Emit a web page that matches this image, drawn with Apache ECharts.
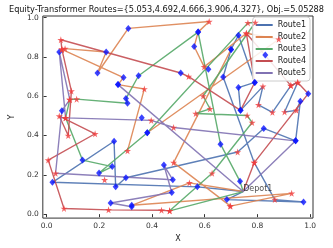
<!DOCTYPE html>
<html><head><meta charset="utf-8">
<script src="https://cdn.jsdelivr.net/npm/echarts@6/dist/echarts.min.js"></script>
<style>html,body{margin:0;padding:0;background:#fff}#c{width:333px;height:248px}</style>
</head><body><div id="c"></div>
<script>
// ---- data (x, y, marker type: O depot, P pickup diamond, S delivery star); null = gap ----
const routeNames = ['Route1','Route2','Route3','Route4','Route5'];
const routeColors = ['#4c72b0','#dd8452','#55a868','#c44e52','#8172b3'];
const depot = [0.746, 0.115];
const route1 = [[0.746,0.115,'O'],[0.684,0.074,'P'],[0.975,0.062,'P'],[0.866,0.074,'S'],[0.788,0.262,'S'],[0.670,0.698,'P'],[0.700,0.838,'P'],[0.728,0.910,'P'],[0.790,0.670,'P'],[0.728,0.644,'P'],[0.736,0.528,'P'],[0.821,0.650,'S'],[0.804,0.556,'S'],[0.857,0.518,'S'],[0.927,0.654,'S'],[0.953,0.670,'S'],[0.903,0.520,'S'],[0.948,0.528,'S'],[0.963,0.575,'P'],[0.945,0.373,'P'],[0.824,0.436,'P'],[0.725,0.316,'S'],[0.301,0.185,'P'],[0.262,0.139,'P'],[0.256,0.371,'P'],[0.022,0.162,'P'],[0.572,0.139,'P'],[0.746,0.115,'O']];
const route2 = [[0.746,0.115,'O'],[0.542,0.159,'S'],[0.323,0.045,'P'],[0.930,0.106,'S'],[0.698,0.041,'S'],[0.482,0.262,'S'],[0.700,0.838,'P'],null,[0.307,0.322,'S'],[0.371,0.637,'S'],[0.271,0.659,'P'],[0.292,0.695,'P'],[0.058,0.838,'S'],[0.070,0.842,'S'],[0.226,0.825,'P'],[0.193,0.718,'P'],[0.310,0.945,'P'],[0.617,0.980,'S'],[0.575,0.926,'P'],[0.560,0.853,'P'],[0.598,0.749,'S'],[0.758,0.920,'S'],[0.881,0.890,'S'],[0.382,0.414,'P']];
const route3 = [[0.746,0.115,'O'],[0.734,0.167,'P'],[0.660,0.356,'P'],[0.575,0.926,'P'],[0.349,0.704,'P'],[0.301,0.588,'P'],[0.307,0.564,'P'],[0.114,0.585,'S'],[0.088,0.583,'S'],[0.072,0.490,'S'],[0.136,0.275,'P'],[0.249,0.242,'P'],[0.199,0.209,'P'],[0.382,0.414,'P'],[0.764,0.973,'S'],[0.792,0.975,'S'],[0.594,0.601,'S'],[0.620,0.536,'S'],[0.566,0.512,'S'],[0.761,0.502,'S'],[0.780,0.466,'S'],[0.628,0.208,'S'],[0.467,0.017,'S'],[0.746,0.115,'O']];
const route4 = [[0.746,0.115,'O'],[0.788,0.262,'S'],[0.993,0.613,'P'],[0.953,0.670,'S'],[0.927,0.654,'S'],[0.758,0.920,'S'],[0.790,0.670,'P'],[0.736,0.528,'P'],[0.539,0.700,'S'],[0.509,0.718,'P'],[0.054,0.887,'S'],[0.058,0.838,'S'],[0.094,0.626,'S'],[0.082,0.400,'S'],[0.048,0.499,'S'],[0.184,0.409,'S'],[0.006,0.275,'S'],[0.066,0.029,'S'],[0.235,0.022,'S'],[0.436,0.020,'S'],[0.467,0.017,'S']];
const route5 = [[0.746,0.115,'O'],[0.945,0.373,'P'],[0.482,0.441,'S'],[0.397,0.477,'S'],[0.072,0.490,'S'],[0.048,0.825,'P'],[0.088,0.583,'S'],[0.058,0.526,'P'],[0.034,0.208,'S'],[0.479,0.175,'P'],[0.445,0.250,'P'],[0.475,0.110,'P'],[0.243,0.057,'P'],[0.323,0.038,'P'],null,[0.271,0.659,'P'],[0.746,0.115,'O']];
const extraNodes = [[0.830,0.810,'P'],[0.361,0.490,'P'],[0.614,0.737,'P'],[0.220,0.175,'S'],[0.696,0.041,'S']];
const xTicks = [0.0,0.2,0.4,0.6,0.8,1.0];
const yTicks = [0.0,0.2,0.4,0.6,0.8,1.0];
const titleText = 'Equity-Transformer Routes={5.053,4.692,4.666,3.906,4.327}, Obj.=5.05288';
const depotLabel = 'Depot1';
// ------------------------------------------------------------------
const routes = [route1, route2, route3, route4, route5];
const STAR = 'path://M50,0 L61,35 L98,35 L68,57 L79,91 L50,70 L21,91 L32,57 L2,35 L39,35 Z';
const series = [];
routes.forEach((r, i) => {
  series.push({
    name: routeNames[i], type: 'line', data: r.map(p => p ? [p[0], p[1]] : ['-', '-']),
    symbol: 'none', connectNulls: false, lineStyle: {width: 1.4, color: routeColors[i], opacity: 0.9},
    itemStyle: {color: routeColors[i]}, z: 2, animation: false
  });
});
const pickups = [], drops = [];
routes.concat([extraNodes]).forEach(r => r.forEach(p => {
  if (!p) return;
  if (p[2] === 'P') pickups.push([p[0], p[1]]);
  else if (p[2] === 'S') drops.push([p[0], p[1]]);
}));
series.push({type: 'scatter', data: pickups, symbol: 'diamond', symbolSize: [6, 7],
  itemStyle: {color: '#0a14ff'}, z: 5, animation: false, silent: true});
series.push({type: 'scatter', data: drops, symbol: STAR, symbolSize: 7,
  itemStyle: {color: '#f03c3c'}, z: 5, animation: false, silent: true});
series.push({type: 'scatter', data: [depot], symbolSize: 0, z: 6, animation: false,
  label: {show: true, formatter: depotLabel, position: 'right', distance: 0, offset: [0, -3],
    fontFamily: 'DejaVu Sans', fontSize: 8, color: '#222'}});
const chart = echarts.init(document.getElementById('c'), null, {renderer: 'canvas'});
chart.setOption({
  animation: false,
  backgroundColor: '#fff',
  title: {text: titleText, left: 'center', top: 1,
    textStyle: {fontFamily: 'DejaVu Sans', fontSize: 8.2, fontWeight: 'normal', color: '#111'}},
  grid: {left: 29, right: 20, top: 16, bottom: 22, show: true, borderColor: '#333', borderWidth: 1, backgroundColor: 'transparent'},
  legend: {data: routeNames, orient: 'vertical', right: 23, top: 17, icon: 'rect', itemWidth: 17, itemHeight: 2,
    itemGap: 2, backgroundColor: 'rgba(255,255,255,0.85)', borderColor: '#ccc', borderWidth: 1, borderRadius: 3,
    padding: [3, 4, 3, 3], textStyle: {fontFamily: 'DejaVu Sans', fontSize: 8, color: '#222', lineHeight: 10}},
  xAxis: {type: 'value', min: -0.0144, max: 1.011, name: 'X', nameLocation: 'middle', nameGap: 12,
    nameTextStyle: {fontFamily: 'DejaVu Sans', fontSize: 8, color: '#222'},
    axisLine: {show: false}, splitLine: {show: false},
    axisTick: {show: true, customValues: xTicks, length: 3, lineStyle: {color: '#333'}},
    axisLabel: {customValues: xTicks, formatter: v => v.toFixed(1), fontFamily: 'DejaVu Sans', fontSize: 7.5, color: '#333', margin: 4}},
  yAxis: {type: 'value', min: -0.02, max: 1.008, name: 'Y', nameLocation: 'middle', nameGap: 19,
    nameTextStyle: {fontFamily: 'DejaVu Sans', fontSize: 8, color: '#222'},
    axisLine: {show: false}, splitLine: {show: false},
    axisTick: {show: true, customValues: yTicks, length: 3, lineStyle: {color: '#333'}},
    axisLabel: {customValues: yTicks, formatter: v => v.toFixed(1), fontFamily: 'DejaVu Sans', fontSize: 7.5, color: '#333', margin: 4}},
  series: series
});
</script></body></html>
